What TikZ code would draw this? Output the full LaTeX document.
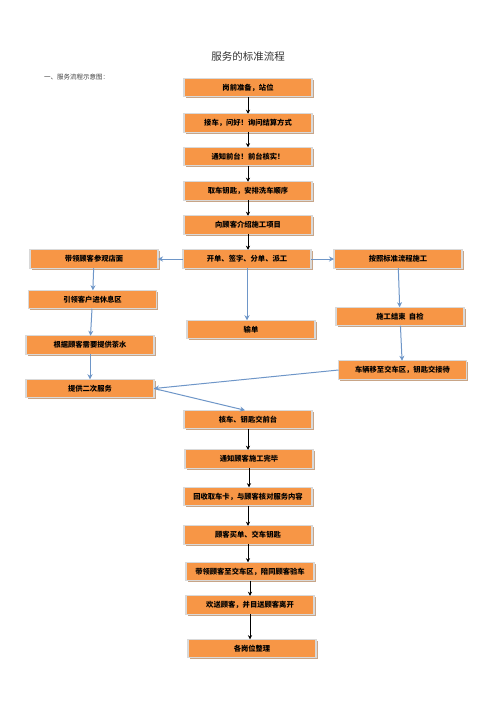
\documentclass[tikz,border=0pt]{standalone}
\usepackage{fontspec}
\setmainfont{Noto Sans CJK SC}
\usepackage{tikz}
\usetikzlibrary{arrows.meta,positioning,shadows}
\definecolor{boxorange}{RGB}{247,150,70}
\definecolor{boxshadow}{RGB}{200,165,135}
\definecolor{linkblue}{RGB}{110,150,200}
\tikzset{
  stepbox/.style={
    draw=white!85!black,
    fill=boxorange,
    line width=1.1pt,
    drop shadow={shadow xshift=1.6pt,shadow yshift=-1.6pt,fill=boxshadow,opacity=1},
    font=\fontsize{7.3}{8}\selectfont\bfseries,
    minimum width=128pt,
    minimum height=18.5pt,
    outer sep=0pt,
    inner sep=2pt
  },
  mainarrow/.style={-{Stealth[length=4pt,width=4pt]}, line width=0.8pt, black},
  sidearrow/.style={-{Stealth[length=5pt,width=5pt]}, line width=1pt, linkblue}
}
\begin{document}
\begin{tikzpicture}[x=1pt,y=1pt,node distance=15pt and 25pt]
  \path[use as bounding box,fill=white] (0,0) rectangle (496,-702);
  \node[font=\fontsize{10.5}{12}\selectfont,text=black!80] (title) at (248,-56) {服务的标准流程};
  \node[font=\fontsize{6.5}{8}\selectfont,text=black!75,anchor=west,inner sep=0pt] (subtitle) at (44,-77) {一、服务流程示意图：};

  % main column
  \node[stepbox] (s1) at (248,-87.5) {岗前准备，站位};
  \node[stepbox,below=17pt of s1] (s2) {接车，问好！询问结算方式};
  \node[stepbox,below=15pt of s2] (s3) {通知前台！前台核实！};
  \node[stepbox,below=16pt of s3] (s4) {取车钥匙，安排洗车顺序};
  \node[stepbox,below=15.5pt of s4] (s5) {向顾客介绍施工项目};
  \node[stepbox,below=15.5pt of s5,xshift=-1pt] (s6) {开单、签字、分单、派工};
  \draw[mainarrow] (s1) -- (s2);
  \draw[mainarrow] (s2) -- (s3);
  \draw[mainarrow] (s3) -- (s4);
  \draw[mainarrow] (s4) -- (s5);
  \draw[mainarrow] (s5.south) -- (s5.south |- s6.north);

  % left branch
  \node[stepbox,left=of s6] (l1) {带领顾客参观店面};
  \node[stepbox,below=22pt of l1,xshift=-1.5pt] (l2) {引领客户进休息区};
  \node[stepbox,below=27pt of l2,xshift=-2.5pt] (l3) {根据顾客需要提供茶水};
  \node[stepbox,below=25pt of l3] (l4) {提供二次服务};
  \draw[sidearrow] (s6) -- (l1);
  \draw[sidearrow] (l1) -- (l2);
  \draw[sidearrow] (l2) -- (l3);
  \draw[sidearrow] (l3) -- (l4);

  % order entry
  \node[stepbox,below=52pt of s6,xshift=4pt] (input) {输单};
  \draw[sidearrow] (s6.south) -- (s6.south |- input.north);

  % right branch
  \node[stepbox,right=23pt of s6] (r1) {按照标准流程施工};
  \node[stepbox,below=39pt of r1,xshift=2pt] (r2) {施工结束\ \ 自检};
  \node[stepbox,below=35pt of r2,xshift=2.5pt] (r3) {车辆移至交车区，钥匙交接待};
  \draw[sidearrow] (s6) -- (r1);
  \draw[sidearrow] (r1) -- (r2);
  \draw[sidearrow] (r2) -- (r3);

  % back to main column
  \node[stepbox,below=142pt of s6,xshift=1pt] (t1) {核车、钥匙交前台};
  \node[stepbox,below=21pt of t1,xshift=1pt] (t2) {通知顾客施工完毕};
  \node[stepbox,below=19pt of t2,xshift=-1pt] (t3) {回收取车卡，与顾客核对服务内容};
  \node[stepbox,below=20pt of t3] (t4) {顾客买单、交车钥匙};
  \node[stepbox,below=18pt of t4,xshift=2pt] (t5) {带领顾客至交车区，陪同顾客验车};
  \node[stepbox,below=15pt of t5] (t6) {欢送顾客，并目送顾客离开};
  \node[stepbox,below=25pt of t6,xshift=2pt] (t7) {各岗位整理};
  \draw[sidearrow] (r3.west) -- (l4.east);
  \draw[sidearrow] (l4.east) -- ([xshift=-3pt]t1.north);
  \draw[mainarrow] (t1.south) -- (t1.south |- t2.north);
  \draw[mainarrow] (t2.south) -- (t2.south |- t3.north);
  \draw[mainarrow] (t3.south) -- (t3.south |- t4.north);
  \draw[mainarrow] (t4.south) -- (t4.south |- t5.north);
  \draw[mainarrow] (t5.south) -- (t5.south |- t6.north);
  \draw[mainarrow] (t6.south) -- (t6.south |- t7.north);
\end{tikzpicture}
\end{document}
